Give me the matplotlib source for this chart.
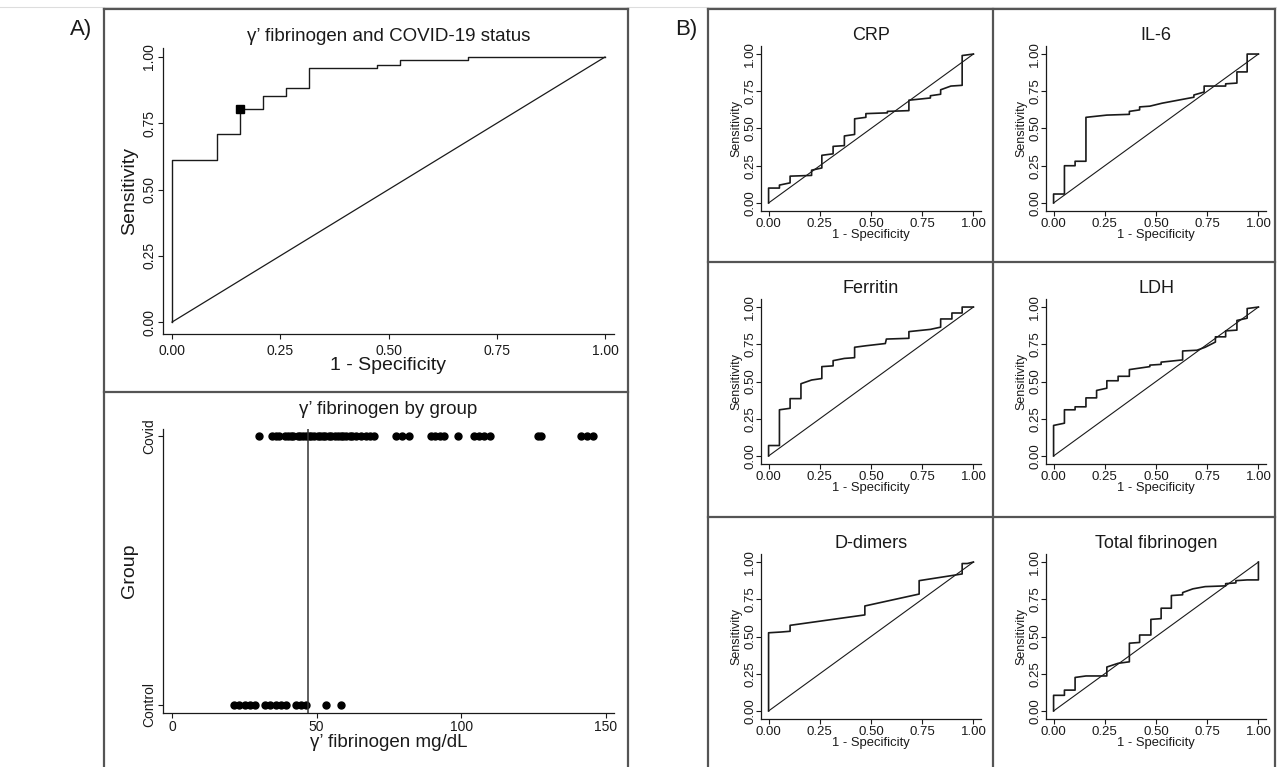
import matplotlib
matplotlib.use('Agg')
import matplotlib.pyplot as plt
from matplotlib.lines import Line2D

plt.rcParams['font.family'] = ['Liberation Sans', 'DejaVu Sans']

# ---- panel A, ROC of gamma' fibrinogen
gf_fpr = [0, 0, 0.105, 0.105, 0.158, 0.158, 0.21, 0.21, 0.263, 0.263, 0.316, 0.316,
          0.474, 0.474, 0.526, 0.526, 0.684, 0.684, 1.0]
gf_tpr = [0, 0.61, 0.61, 0.71, 0.71, 0.805, 0.805, 0.853, 0.853, 0.884, 0.884, 0.96,
          0.96, 0.971, 0.971, 0.99, 0.99, 1.0, 1.0]
cut_fpr = 0.158
cut_tpr = 0.805

# ---- panel A, dot plot by group
covid_vals = [30, 34.5, 36, 37, 39.2, 40.1, 41.3, 42.0, 43.4, 44.1, 45.2, 46.5, 47.3, 48.0,
              49.1, 50.4, 51.2, 52.3, 53.0, 54.4, 55.1, 56.2, 57.5, 58.3, 59.0, 60.2, 61.4,
              62.1, 63.5, 65.5, 67, 68.5, 70, 77.5, 79.5, 82, 89.5, 91, 92.5, 94, 99,
              104.5, 106, 108, 110, 126.5, 127.5, 141.5, 143.5, 145.5]
control_vals = [21.6, 23.3, 25.1, 26.9, 28.7, 32.2, 34.0, 35.8, 37.6, 39.3, 42.9, 44.7,
                46.4, 53.3, 58.3]
cutoff = 47.0
group_labels = ['Control', 'Covid']

# ---- panel B, ROC curves of other markers
crp_fpr = [0, 0, 0.053, 0.053, 0.105, 0.105, 0.21, 0.21, 0.26, 0.26, 0.315, 0.315, 0.37, 0.37,
           0.42, 0.42, 0.475, 0.475, 0.58, 0.58, 0.685, 0.685, 0.79, 0.79, 0.84, 0.84, 0.89,
           0.945, 0.945, 1.0]
crp_tpr = [0, 0.10, 0.10, 0.12, 0.135, 0.18, 0.185, 0.22, 0.235, 0.32, 0.33, 0.38, 0.385, 0.45,
           0.46, 0.565, 0.575, 0.60, 0.605, 0.615, 0.62, 0.69, 0.705, 0.72, 0.73, 0.76, 0.785,
           0.79, 0.99, 1.0]

il6_fpr = [0, 0, 0.053, 0.053, 0.105, 0.105, 0.158, 0.158, 0.26, 0.37, 0.37, 0.42, 0.42, 0.47,
           0.53, 0.685, 0.685, 0.735, 0.735, 0.84, 0.84, 0.895, 0.895, 0.945, 0.945, 1.0]
il6_tpr = [0, 0.06, 0.06, 0.25, 0.25, 0.28, 0.28, 0.575, 0.59, 0.595, 0.615, 0.625, 0.645, 0.65,
           0.67, 0.71, 0.725, 0.745, 0.785, 0.785, 0.80, 0.805, 0.88, 0.88, 1.0, 1.0]

fer_fpr = [0, 0, 0.053, 0.053, 0.105, 0.105, 0.158, 0.158, 0.21, 0.26, 0.26, 0.315, 0.315, 0.37,
           0.42, 0.42, 0.475, 0.57, 0.575, 0.685, 0.685, 0.79, 0.84, 0.84, 0.895, 0.895, 0.945,
           0.945, 1.0]
fer_tpr = [0, 0.07, 0.07, 0.31, 0.32, 0.385, 0.385, 0.485, 0.51, 0.52, 0.60, 0.605, 0.64, 0.655,
           0.66, 0.73, 0.74, 0.755, 0.785, 0.79, 0.835, 0.85, 0.865, 0.92, 0.92, 0.96, 0.96,
           1.0, 1.0]

ldh_fpr = [0, 0, 0.053, 0.053, 0.105, 0.105, 0.158, 0.158, 0.21, 0.21, 0.26, 0.26, 0.315, 0.315,
           0.37, 0.37, 0.47, 0.47, 0.525, 0.525, 0.63, 0.63, 0.70, 0.74, 0.79, 0.79, 0.84, 0.84,
           0.895, 0.895, 0.945, 0.945, 1.0]
ldh_tpr = [0, 0.205, 0.22, 0.31, 0.31, 0.33, 0.33, 0.39, 0.39, 0.44, 0.455, 0.505, 0.505, 0.535,
           0.535, 0.58, 0.60, 0.61, 0.615, 0.63, 0.645, 0.705, 0.71, 0.73, 0.765, 0.80, 0.80,
           0.84, 0.845, 0.91, 0.925, 0.99, 1.0]

dd_fpr = [0, 0, 0.06, 0.105, 0.105, 0.47, 0.47, 0.735, 0.735, 0.945, 0.945, 0.97, 1.0]
dd_tpr = [0, 0.525, 0.53, 0.535, 0.575, 0.645, 0.705, 0.785, 0.875, 0.92, 0.99, 0.99, 1.0]

tf_fpr = [0, 0, 0.053, 0.053, 0.105, 0.105, 0.158, 0.26, 0.26, 0.315, 0.37, 0.37, 0.42, 0.42,
          0.475, 0.475, 0.525, 0.525, 0.575, 0.575, 0.63, 0.63, 0.68, 0.74, 0.84, 0.84, 0.89,
          0.89, 0.945, 1.0, 1.0]
tf_tpr = [0, 0.105, 0.105, 0.14, 0.14, 0.225, 0.235, 0.235, 0.295, 0.32, 0.33, 0.455, 0.46,
          0.51, 0.51, 0.615, 0.62, 0.69, 0.69, 0.775, 0.78, 0.795, 0.82, 0.835, 0.84, 0.855,
          0.86, 0.875, 0.88, 0.88, 1.0]

b_titles = ['CRP', 'IL-6', 'Ferritin', 'LDH', 'D-dimers', 'Total fibrinogen']
b_curves = [(crp_fpr, crp_tpr), (il6_fpr, il6_tpr), (fer_fpr, fer_tpr),
            (ldh_fpr, ldh_tpr), (dd_fpr, dd_tpr), (tf_fpr, tf_tpr)]
roc_ticks = [0, 0.25, 0.5, 0.75, 1.0]
roc_ticklabels = ['0.00', '0.25', '0.50', '0.75', '1.00']

W, H = 1277, 767
fig = plt.figure(figsize=(W / 100, H / 100), dpi=100)
ink = '#1a1a1a'


def add_ax(l, t, r, b):
    return fig.add_axes([l / W, 1 - b / H, (r - l) / W, (b - t) / H])


def style(ax, fs, ypad=1.5, xpad=1.5):
    for s in ['top', 'right']:
        ax.spines[s].set_visible(False)
    for s in ['left', 'bottom']:
        ax.spines[s].set_linewidth(0.9)
        ax.spines[s].set_color(ink)
    ax.tick_params(direction='out', length=3.5, width=0.8, labelsize=fs, colors=ink)
    ax.tick_params(axis='y', pad=ypad)
    ax.tick_params(axis='x', pad=xpad)


def fline(x0, y0, x1, y1, **kw):
    fig.add_artist(Line2D([x0 / W, x1 / W], [1 - y0 / H, 1 - y1 / H],
                          transform=fig.transFigure, **kw))


# frames
frame = dict(color='#555555', lw=1.6)
fline(0, 7, W, 7, color='#dddddd', lw=0.8)
fline(104, 9, 628, 9, **frame)
fline(104, 9, 104, 768, **frame)
fline(628, 9, 628, 768, **frame)
fline(104, 392, 628, 392, **frame)
fline(708, 9, 1275, 9, **frame)
fline(708, 9, 708, 768, **frame)
fline(1275, 9, 1275, 768, **frame)
fline(993, 9, 993, 768, **frame)
fline(708, 262, 1275, 262, **frame)
fline(708, 517, 1275, 517, **frame)

fig.text(81 / W, 1 - 30 / H, 'A)', fontsize=16, ha='center', va='center', color=ink)
fig.text(686 / W, 1 - 30 / H, 'B)', fontsize=16, ha='center', va='center', color=ink)

# ---- A top: ROC
ax = add_ax(163, 48, 614, 334)
style(ax, 10, xpad=4)
ax.plot([0, 1], [0, 1], color=ink, lw=0.9)
ax.plot(gf_fpr, gf_tpr, color=ink, lw=1.0)
ax.plot([cut_fpr], [cut_tpr], marker='s', ms=6, color='black', ls='none')
ax.set_xlim(-0.0208, 1.0208)
ax.set_ylim(-0.045, 1.034)
ax.set_xticks(roc_ticks)
ax.set_xticklabels(roc_ticklabels)
ax.set_yticks(roc_ticks)
ax.set_yticklabels(roc_ticklabels, rotation=90, va='center')
ax.set_xlabel('1 - Specificity', fontsize=14, labelpad=-1, color=ink)
ax.set_ylabel('Sensitivity', fontsize=14, labelpad=3, color=ink)
ax.set_title('\u03b3\u2019 fibrinogen and COVID-19 status', fontsize=13.5, pad=5, color=ink)

# ---- A bottom: dot plot
ax = add_ax(163, 429, 614, 713)
style(ax, 10)
ax.plot(covid_vals, [1] * len(covid_vals), 'o', ms=5, color='black')
ax.plot(control_vals, [0] * len(control_vals), 'o', ms=5, color='black')
ax.axvline(cutoff, color='#333333', lw=1.1)
ax.set_xlim(-3.1, 152.8)
ax.set_ylim(-0.03, 1.027)
ax.set_xticks([0, 50, 100, 150])
ax.set_yticks([0, 1])
ax.set_yticklabels(group_labels, rotation=90, va='center')
ax.set_xlabel('\u03b3\u2019 fibrinogen mg/dL', fontsize=13.5, labelpad=0, color=ink)
ax.set_ylabel('Group', fontsize=14, labelpad=3, color=ink)
ax.set_title('\u03b3\u2019 fibrinogen by group', fontsize=13.5, pad=11, color=ink)

# ---- B: six ROC panels
cells = [(708, 9), (993, 9), (708, 262), (993, 262), (708, 517), (993, 517)]
for (cx, cy), title, (fx, ty) in zip(cells, b_titles, b_curves):
    ax = add_ax(cx + 53, cy + 37, cx + 273, cy + 202)
    style(ax, 9.5, ypad=0)
    ax.plot([0, 1], [0, 1], color=ink, lw=0.8)
    ax.plot(fx, ty, color=ink, lw=1.2)
    ax.set_xlim(-0.037, 1.037)
    ax.set_ylim(-0.054, 1.054)
    ax.set_xticks(roc_ticks)
    ax.set_xticklabels(roc_ticklabels)
    ax.set_yticks(roc_ticks)
    ax.set_yticklabels(roc_ticklabels, rotation=90, va='center')
    ax.set_xlabel('1 - Specificity', fontsize=9.4, labelpad=-1, color=ink)
    ax.set_ylabel('Sensitivity', fontsize=9, labelpad=1.5, color=ink)
    ax.set_title(title, fontsize=13, pad=4, color=ink)

fig.savefig('out.png', dpi=100)
